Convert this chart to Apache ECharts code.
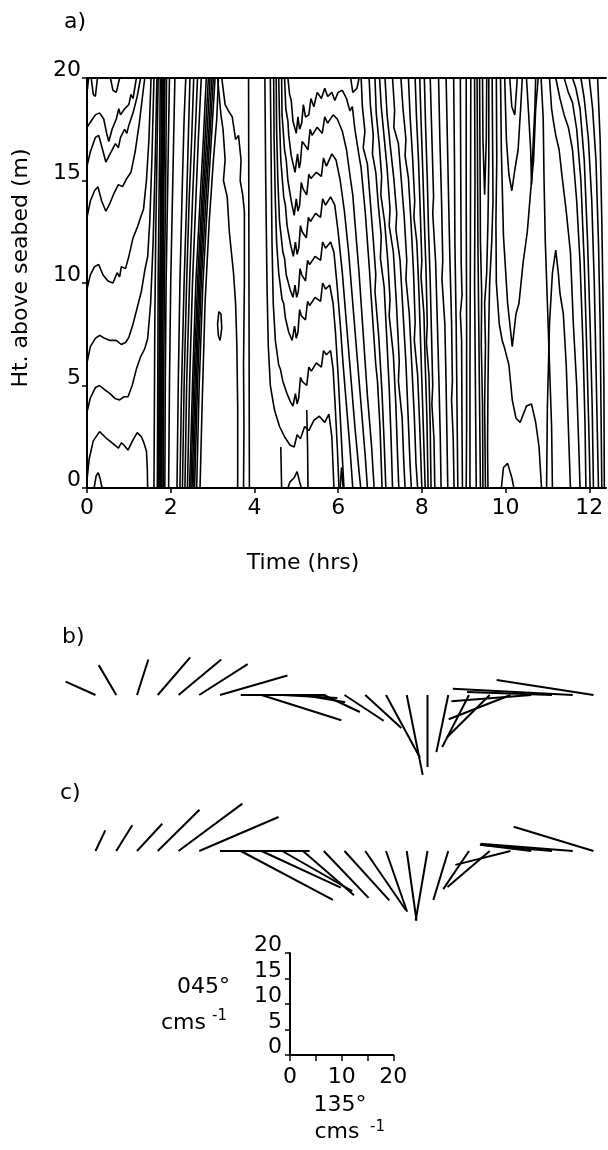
<!DOCTYPE html>
<html>
<head>
<meta charset="utf-8">
<script src="https://cdn.jsdelivr.net/npm/echarts@6/dist/echarts.min.js"></script>
<style>
html, body { margin: 0; padding: 0; background: #fff; }
#chart { width: 608px; height: 1150px; }
</style>
</head>
<body>
<div id="chart"></div>
<script>
// panel a: contour lines, each a list of [time (hrs), height (m)]
const leftFamily = [
  [[0,19.3],[0.04,20]],
  [[0.1,20],[0.15,19.2],[0.2,19.1],[0.25,20]],
  [[0.56,20],[0.62,19.4],[0.7,19.3],[0.78,20]],
  [[0,17.6],[0.1,17.9],[0.2,18.2],[0.3,18.3],[0.4,18.0],[0.47,17.3],[0.52,16.9],[0.6,17.5],[0.7,18.0],[0.76,18.5],[0.8,18.2],[0.9,18.5],[1.0,18.7],[1.05,19.2],[1.1,19.0],[1.18,20]],
  [[0,15.7],[0.08,16.4],[0.2,17.1],[0.28,17.2],[0.36,16.6],[0.45,15.9],[0.55,16.3],[0.68,16.8],[0.75,16.6],[0.8,17.1],[0.9,17.5],[0.95,17.3],[1.0,17.7],[1.1,18.3],[1.2,19.1],[1.28,20]],
  [[0,13.2],[0.08,14.0],[0.18,14.5],[0.26,14.7],[0.35,14.0],[0.45,13.5],[0.55,13.9],[0.65,14.4],[0.75,14.8],[0.85,14.7],[0.95,15.1],[1.05,15.4],[1.15,16.4],[1.25,17.8],[1.32,19],[1.38,20]],
  [[0,9.7],[0.08,10.4],[0.18,10.8],[0.28,10.9],[0.38,10.4],[0.5,10.1],[0.62,10.0],[0.72,10.5],[0.78,10.3],[0.82,10.8],[0.92,10.7],[1.0,11.3],[1.1,12.2],[1.2,12.7],[1.28,13.2],[1.35,13.6],[1.42,15],[1.48,17],[1.53,20]],
  [[0,6.1],[0.08,6.9],[0.2,7.3],[0.3,7.45],[0.42,7.3],[0.55,7.2],[0.7,7.2],[0.82,7.0],[0.92,7.1],[1.0,7.35],[1.1,8.0],[1.2,8.8],[1.3,9.6],[1.38,10.6],[1.45,11.3],[1.5,13],[1.55,16],[1.6,20]],
  [[0,3.7],[0.08,4.4],[0.2,4.9],[0.3,5.0],[0.42,4.8],[0.55,4.6],[0.68,4.35],[0.78,4.3],[0.88,4.45],[0.98,4.45],[1.08,5.0],[1.18,5.8],[1.28,6.4],[1.38,6.8],[1.45,7.3],[1.52,9],[1.58,12],[1.63,16],[1.67,20]],
  [[0,0.4],[0.05,1.4],[0.15,2.3],[0.3,2.75],[0.45,2.45],[0.6,2.2],[0.75,1.95],[0.82,2.2],[0.88,2.1],[0.98,1.85],[1.1,2.35],[1.2,2.7],[1.3,2.5],[1.36,2.2],[1.42,1.8],[1.44,1.0],[1.45,0]],
  [[0.17,0],[0.22,0.6],[0.27,0.75],[0.32,0.4],[0.36,0]]
];

const bandLines = [
  [[1.6,0],[1.61,4],[1.62,8],[1.64,12],[1.67,16],[1.7,20]],
  [[1.68,0],[1.69,5],[1.7,10],[1.72,14],[1.74,17],[1.75,20]],
  [[1.71,0],[1.72,5],[1.74,10],[1.76,14],[1.78,20]],
  [[1.73,0],[1.74,5],[1.76,10],[1.78,14],[1.8,20]],
  [[1.75,0],[1.76,5],[1.78,10],[1.8,15],[1.82,20]],
  [[1.77,0],[1.78,5],[1.8,10],[1.82,15],[1.84,20]],
  [[1.79,0],[1.8,5],[1.82,10],[1.84,15],[1.86,20]],
  [[1.82,0],[1.83,5],[1.85,10],[1.88,15],[1.9,20]],
  [[1.86,0],[1.87,5],[1.89,10],[1.93,15],[1.97,20]],
  [[1.95,0],[1.97,5],[2.0,10],[2.05,15],[2.1,20]],
  [[2.15,0],[2.18,5],[2.22,10],[2.28,15],[2.32,18],[2.36,20]],
  [[2.22,0],[2.26,5],[2.32,10],[2.38,14],[2.42,17],[2.46,20]],
  [[2.28,0],[2.32,5],[2.38,10],[2.44,14],[2.5,17],[2.55,20]],
  [[2.34,0],[2.38,5],[2.45,10],[2.52,14],[2.58,17],[2.64,20]],
  [[2.4,0],[2.45,5],[2.52,10],[2.6,14],[2.66,17],[2.73,20]],
  [[2.45,0],[2.52,5],[2.6,10],[2.7,14],[2.78,17],[2.85,20]],
  [[2.48,0],[2.55,5],[2.64,10],[2.74,14],[2.82,17],[2.9,20]],
  [[2.51,0],[2.58,5],[2.67,10],[2.77,14],[2.86,17],[2.94,20]],
  [[2.54,0],[2.61,5],[2.7,10],[2.8,14],[2.9,17],[2.98,20]],
  [[2.57,0],[2.64,5],[2.73,10],[2.84,14],[2.93,17],[3.02,20]],
  [[2.62,0],[2.68,5],[2.77,10],[2.88,14],[2.97,17],[3.06,20]],
  [[2.7,0],[2.75,4],[2.82,9],[2.92,13],[3.02,16],[3.1,18],[3.14,20]]
];

const midLines = [
  [[3.22,20],[3.3,18.7],[3.38,18.4],[3.47,18.1],[3.55,17.0],[3.62,17.2],[3.68,16.0],[3.66,15.0],[3.72,14.3],[3.76,13.5],[3.76,10],[3.74,6],[3.75,3],[3.74,0]],
  [[3.86,20],[3.87,10],[3.88,0]],
  [[3.12,20],[3.2,18.2],[3.25,17.5],[3.3,16.0],[3.26,15],[3.35,14.2],[3.4,12.5],[3.45,11.5],[3.5,10.5],[3.55,9],[3.58,7],[3.6,4],[3.6,0]],
  [[3.14,7.4],[3.12,8.0],[3.15,8.6],[3.2,8.5],[3.22,7.8],[3.18,7.2],[3.14,7.4]],
  [[4.63,2.0],[4.64,1.0],[4.65,0]],
  [[4.8,0],[4.85,0.3],[4.95,0.5],[5.02,0.8],[5.08,0.3],[5.12,0]],
  [[5.25,3.8],[5.27,2],[5.28,0]],
  [[6.05,0],[6.08,1.0],[6.1,0.6],[6.12,0]],
  [[6.3,20],[6.35,19.3],[6.45,19.5],[6.5,20]]
];

const vFamily = [
  [[4.8,20],[4.84,19.2],[4.88,18.9],[4.92,17.9],[4.96,17.6],[5.0,17.3],[5.04,18.1],[5.08,17.5],[5.13,17.8],[5.17,18.7],[5.22,18.1],[5.3,18.2],[5.35,19.0],[5.42,18.6],[5.5,19.3],[5.6,19.0],[5.68,19.5],[5.75,19.1],[5.85,19.3],[5.92,18.9],[6.0,19.3],[6.1,19.4],[6.2,19.0],[6.28,18.4],[6.34,18.6],[6.4,17.5],[6.5,16.2],[6.55,15.6],[6.6,14.5],[6.65,13.4],[6.7,12],[6.75,10.6],[6.8,9],[6.9,6],[6.94,5.2],[7.0,3],[7.05,0]],
  [[4.72,20],[4.75,18.5],[4.8,17.9],[4.82,17.2],[4.88,16.2],[4.97,15.4],[5.03,16.3],[5.07,15.6],[5.1,15.9],[5.14,16.9],[5.18,16.8],[5.28,16.5],[5.33,17.5],[5.38,17.2],[5.5,17.6],[5.62,17.3],[5.68,18.1],[5.75,17.8],[5.88,18.2],[5.98,18.0],[6.1,17.4],[6.2,16.5],[6.3,15],[6.35,14.3],[6.4,13],[6.5,10.5],[6.6,7.5],[6.7,4.5],[6.8,2],[6.86,0]],
  [[4.65,20],[4.66,18.2],[4.72,16.5],[4.76,16.0],[4.8,15.0],[4.88,14.0],[4.95,13.3],[5.0,14.1],[5.04,13.5],[5.08,13.8],[5.12,14.9],[5.16,14.6],[5.25,14.3],[5.3,15.3],[5.35,15.1],[5.48,15.4],[5.6,15.2],[5.65,16.1],[5.72,15.7],[5.85,16.3],[5.95,16.0],[6.05,15.0],[6.15,13.5],[6.25,11.5],[6.35,9],[6.45,6.5],[6.55,4],[6.65,1.5],[6.7,0]],
  [[4.58,20],[4.6,18],[4.63,16],[4.7,14.2],[4.74,13.8],[4.78,12.8],[4.86,11.9],[4.93,11.3],[4.98,12.0],[5.02,11.4],[5.06,11.7],[5.1,12.8],[5.14,12.5],[5.24,12.2],[5.29,13.2],[5.34,13.0],[5.46,13.4],[5.58,13.2],[5.63,14.1],[5.7,13.8],[5.82,14.2],[5.92,13.8],[6.0,12.5],[6.1,10.5],[6.2,8],[6.3,5.5],[6.4,3],[6.5,0.8],[6.54,0]],
  [[4.52,20],[4.53,17.5],[4.56,15],[4.6,13],[4.68,11.5],[4.72,11.2],[4.76,10.4],[4.85,9.7],[4.92,9.3],[4.97,9.9],[5.01,9.3],[5.05,9.6],[5.09,10.7],[5.13,10.4],[5.22,10.1],[5.27,11.1],[5.32,10.9],[5.45,11.3],[5.58,11.1],[5.63,12.0],[5.7,11.7],[5.82,12.0],[5.9,11.5],[5.97,10],[6.05,8],[6.12,6],[6.2,4],[6.28,2],[6.35,0]],
  [[4.46,20],[4.47,17],[4.5,14],[4.53,12],[4.58,10.5],[4.66,9.2],[4.7,9.0],[4.74,8.3],[4.82,7.6],[4.9,7.2],[4.96,7.9],[5.0,7.3],[5.04,7.6],[5.08,8.7],[5.12,8.4],[5.22,8.2],[5.27,9.1],[5.32,8.9],[5.45,9.3],[5.58,9.1],[5.63,10.0],[5.7,9.7],[5.8,9.9],[5.88,9.0],[5.94,7.5],[6.0,5.5],[6.05,3.5],[6.1,1.5],[6.14,0]],
  [[4.38,20],[4.4,16],[4.42,12],[4.45,9],[4.5,7.2],[4.58,6.0],[4.62,5.8],[4.68,5.2],[4.78,4.6],[4.86,4.2],[4.92,4.0],[4.98,4.6],[5.02,4.1],[5.06,4.4],[5.1,5.4],[5.14,5.2],[5.25,5.0],[5.3,5.9],[5.36,5.7],[5.48,6.1],[5.6,5.9],[5.65,6.7],[5.72,6.5],[5.82,6.7],[5.88,5.8],[5.93,4],[5.98,2],[6.02,0]],
  [[4.25,20],[4.27,15],[4.3,10],[4.33,7],[4.38,5],[4.48,3.8],[4.6,3.0],[4.72,2.5],[4.85,2.1],[4.95,2.0],[5.02,2.6],[5.1,2.4],[5.2,3.0],[5.3,2.8],[5.42,3.3],[5.55,3.5],[5.68,3.2],[5.78,3.6],[5.85,2.5],[5.88,1],[5.9,0]]
];

const slantLines = [
  [[6.55,20],[6.58,18.6],[6.64,17.4],[6.6,16.6],[6.7,15.8],[6.76,14.2],[6.84,12.1],[6.9,10.4],[6.88,9.6],[6.97,7.4],[7.05,4.6],[7.1,2.2],[7.14,0]],
  [[6.74,20],[6.77,18.7],[6.84,17.2],[6.82,16.3],[6.9,15.4],[6.96,13.8],[7.03,12.3],[7.01,11.2],[7.1,9.8],[7.16,7.4],[7.22,4.9],[7.27,2.1],[7.3,0]],
  [[6.88,20],[6.91,18.3],[6.98,16.8],[7.04,15.2],[7.02,14.3],[7.11,13.0],[7.19,11.0],[7.24,9.2],[7.22,8.4],[7.32,6.5],[7.38,4.0],[7.42,1.6],[7.45,0]],
  [[6.99,20],[7.03,18.6],[7.1,17.1],[7.17,15.6],[7.24,13.6],[7.22,12.8],[7.32,11.5],[7.39,9.1],[7.46,6.2],[7.44,5.2],[7.53,3.4],[7.57,1.2],[7.6,0]],
  [[7.12,20],[7.17,18.2],[7.25,16.6],[7.33,15.1],[7.4,13.4],[7.38,12.6],[7.48,11.1],[7.55,8.6],[7.62,6.1],[7.67,3.6],[7.72,1.1],[7.75,0]],
  [[7.3,20],[7.35,18.4],[7.33,17.6],[7.44,16.8],[7.51,15.0],[7.58,13.2],[7.64,11.1],[7.62,10.2],[7.7,8.5],[7.76,6.0],[7.82,3.5],[7.86,1.2],[7.9,0]],
  [[7.5,20],[7.55,18.5],[7.62,17.0],[7.6,16.2],[7.68,15.1],[7.74,13.0],[7.8,10.6],[7.84,8.1],[7.82,7.2],[7.9,5.5],[7.95,3.0],[8.0,0]],
  [[7.68,20],[7.72,18.1],[7.78,16.1],[7.83,14.0],[7.81,13.2],[7.88,12.0],[7.93,9.6],[7.97,7.1],[8.01,4.6],[8.05,2.0],[8.08,0]],
  [[7.84,20],[7.87,18.2],[7.92,16.0],[7.96,13.6],[8.0,11.1],[7.98,10.3],[8.05,8.5],[8.08,6.1],[8.12,3.5],[8.15,0]],
  [[7.95,20],[7.98,18.0],[8.02,15.6],[8.06,13.0],[8.1,10.6],[8.13,8.0],[8.11,7.1],[8.17,5.5],[8.2,3.0],[8.22,0]],
  [[8.06,20],[8.09,17.6],[8.13,15.1],[8.16,12.6],[8.2,10.1],[8.23,7.6],[8.26,5.0],[8.24,4.1],[8.29,2.4],[8.31,0]],
  [[8.2,20],[8.24,17.1],[8.28,14.2],[8.26,13.4],[8.33,11.0],[8.37,8.1],[8.41,5.1],[8.44,2.5],[8.46,0]],
  [[8.4,20],[8.43,17.1],[8.47,14.1],[8.5,11.1],[8.48,10.2],[8.55,8.0],[8.58,5.0],[8.6,2.5],[8.62,0]],
  [[8.58,20],[8.61,17.0],[8.64,14.0],[8.67,11.2],[8.71,8.1],[8.73,5.2],[8.71,4.3],[8.75,2.4],[8.77,0]],
  [[8.76,20],[8.78,16.0],[8.79,12.0],[8.82,8.0],[8.84,4.0],[8.86,0]],
  [[8.92,20],[8.93,15.0],[8.94,11.0],[8.96,9.4],[8.92,8.5],[8.95,7.2],[8.96,3.0],[8.97,0]],
  [[9.06,20],[9.06,14.0],[9.07,8.0],[9.07,3.0],[9.06,0]],
  [[9.17,20],[9.16,12.0],[9.15,6.0],[9.15,0]]
];

const rightLines = [
  [[9.26,20],[9.27,15],[9.26,10],[9.28,5],[9.3,0]],
  [[9.32,20],[9.33,16],[9.34,12],[9.36,8],[9.38,4],[9.4,0]],
  [[9.38,20],[9.39,16],[9.4,12],[9.43,9.5],[9.42,7],[9.45,4],[9.46,0]],
  [[9.45,20],[9.46,17],[9.5,14.3],[9.54,17],[9.55,20]],
  [[9.6,20],[9.6,16],[9.58,13],[9.55,10.5],[9.5,9],[9.52,7],[9.5,4],[9.52,0]],
  [[9.68,20],[9.69,17],[9.7,14],[9.67,12],[9.62,10],[9.6,8],[9.58,5],[9.57,2],[9.58,0]],
  [[9.78,20],[9.79,16],[9.77,13],[9.78,10],[9.85,8],[9.92,7.2],[9.98,6.8],[10.08,6.0],[10.16,4.3],[10.25,3.4],[10.35,3.2],[10.5,4.0],[10.62,4.1],[10.72,3.2],[10.8,2.0],[10.86,0]],
  [[9.88,20],[9.9,16.5],[9.95,12.3],[10.05,9.0],[10.16,6.9],[10.25,8.5],[10.32,9.0],[10.42,11],[10.52,12.5],[10.6,14.5],[10.67,16],[10.72,18.5],[10.78,20]],
  [[9.98,20],[10.02,17],[10.08,15.3],[10.15,14.5],[10.22,15.5],[10.3,16.5],[10.36,18.5],[10.4,20]],
  [[10.1,20],[10.15,18.6],[10.22,18.2],[10.28,20]],
  [[9.9,0],[9.95,1.0],[10.05,1.2],[10.15,0.5],[10.2,0]],
  [[10.85,20],[10.9,18],[10.92,15],[10.95,12],[11.0,9],[11.05,6],[11.1,3],[11.12,0]],
  [[10.98,0],[11.0,4],[11.05,8],[11.12,10.5],[11.2,11.6],[11.26,10.5],[11.3,9.5],[11.38,8.5],[11.45,6],[11.5,3],[11.55,0]],
  [[11.05,20],[11.1,18.5],[11.15,17.8],[11.2,17.2],[11.28,16.5],[11.35,15.2],[11.45,13.5],[11.55,11.5],[11.62,8],[11.7,5],[11.75,2],[11.78,0]],
  [[11.2,20],[11.3,19],[11.4,18.2],[11.5,17.6],[11.6,16.5],[11.7,14],[11.78,11],[11.85,7],[11.9,3],[11.92,0]],
  [[11.4,20],[11.5,19.3],[11.6,18.8],[11.7,17.5],[11.8,15],[11.88,11],[11.95,6],[12.0,2],[12.02,0]],
  [[11.6,20],[11.68,19.5],[11.78,18.5],[11.88,16],[11.96,12],[12.02,8],[12.07,4],[12.1,0]],
  [[11.8,20],[11.88,19],[11.98,17],[12.06,14],[12.12,10],[12.16,6],[12.2,2],[12.22,0]],
  [[12.0,20],[12.08,18.5],[12.16,16],[12.22,12],[12.26,8],[12.28,4],[12.3,0]],
  [[12.2,20],[12.26,17],[12.3,13],[12.33,9],[12.35,5],[12.36,0]],
  [[10.5,20],[10.55,18.3],[10.6,16.5],[10.62,14.8],[10.66,16.8],[10.7,18.5],[10.72,20]]
];

// panels b and c: current vectors every half hour, components in cm/s
const stickTimes = [0,0.5,1,1.5,2,2.5,3,3.5,4,4.5,5,5.5,6,6.5,7,7.5,8,8.5,9,9.5,10,10.5,11,11.5,12];
const bU = [-5.8,-3.4,2.2,6.3,8.3,9.4,13.1,16.5,15.5,10.7,8.2,7.0,7.6,7.0,6.6,3.1,0,-2.3,-5.2,-8.3,-12.0,-15.5,-16.5,-23.3,-18.8];
const bV = [2.6,5.8,6.9,7.3,6.9,6.0,3.8,0,-4.9,-0.6,-1.4,-3.3,-5.0,-6.4,-12.2,-15.5,-14.0,-11.1,-10.1,-8.2,-4.7,-1.2,0.6,1.2,2.9];
const cU = [1.9,3.1,4.9,8.1,12.4,15.4,17.4,17.9,15.4,13.6,9.9,8.7,8.7,7.9,4.1,1.9,-2.3,-2.9,-5.0,-8.2,-10.7,-9.9,-14.0,-17.9,-15.5];
const cV = [4.0,5.0,5.3,8.0,9.2,6.6,0,-9.5,-7.1,-7.8,-8.6,-9.1,-9.6,-11.5,-11.8,-13.5,-13.5,-9.5,-7.4,-7.0,-2.7,1.2,1.2,1.4,4.7];

const timeTicks = [0, 2, 4, 6, 8, 10, 12];
const scaleXLabels = [0, 10, 20];

const FONT = 'DejaVu Sans';
const myChart = echarts.init(document.getElementById('chart'));

const allContours = [].concat(leftFamily, bandLines, midLines, vFamily, slantLines, rightLines);
const contourSeries = allContours.map(function (pts) {
  return {
    type: 'line', xAxisIndex: 0, yAxisIndex: 0, data: pts,
    symbol: 'none', showSymbol: false, silent: true, animation: false,
    lineStyle: { color: '#000', width: 1.6 }
  };
});

function stickItem(params, api) {
  const p = api.coord([api.value(0), 0]);
  const k = api.size([0, 1])[1];
  return {
    type: 'line',
    shape: { x1: p[0], y1: p[1], x2: p[0] + api.value(1) * k, y2: p[1] - api.value(2) * k },
    style: { stroke: '#000', lineWidth: 2 }
  };
}
function stickData(u, v) {
  return stickTimes.map(function (t, i) { return [t, u[i], v[i]]; });
}

const lineBlack = { show: true, lineStyle: { color: '#000', width: 2 } };
const labelStyle = { color: '#000', fontFamily: FONT, fontSize: 22 };

myChart.setOption({
  animation: false,
  grid: [
    { left: 87, top: 78, width: 519, height: 410, outerBoundsMode: 'none' },
    { left: 95.5, top: 643.5, width: 498, height: 154.5, outerBoundsMode: 'none' },
    { left: 95.5, top: 799.5, width: 498, height: 128.75, outerBoundsMode: 'none' },
    { left: 290, top: 953, width: 103.3, height: 102, outerBoundsMode: 'none' }
  ],
  xAxis: [
    { gridIndex: 0, type: 'value', min: 0, max: 12.4, interval: 2,
      axisLine: lineBlack, splitLine: { show: false },
      axisTick: { show: true, length: 5, lineStyle: { color: '#000', width: 1.5 },
        customValues: timeTicks },
      axisLabel: Object.assign({ margin: 9, customValues: timeTicks }, labelStyle) },
    { gridIndex: 0, type: 'value', min: 0, max: 12.4, position: 'top',
      axisLine: lineBlack, axisTick: { show: false }, axisLabel: { show: false }, splitLine: { show: false } },
    { gridIndex: 1, type: 'value', min: 0, max: 12, show: false },
    { gridIndex: 2, type: 'value', min: 0, max: 12, show: false },
    { gridIndex: 3, type: 'value', min: 0, max: 20, interval: 5,
      axisLine: lineBlack, splitLine: { show: false },
      axisTick: { show: true, length: 6, lineStyle: { color: '#000', width: 1.5 } },
      axisLabel: Object.assign({ margin: 11, formatter: function (v) { return scaleXLabels.indexOf(v) >= 0 ? String(v) : ''; } }, labelStyle) }
  ],
  yAxis: [
    { gridIndex: 0, type: 'value', min: 0, max: 20, interval: 5,
      axisLine: lineBlack, splitLine: { show: false },
      axisTick: { show: true, length: 5, lineStyle: { color: '#000', width: 1.5 } },
      axisLabel: Object.assign({ margin: 6, verticalAlign: 'bottom', lineHeight: 15 }, labelStyle) },
    { gridIndex: 1, type: 'value', min: -20, max: 10, show: false },
    { gridIndex: 2, type: 'value', min: -15, max: 10, show: false },
    { gridIndex: 3, type: 'value', min: 0, max: 20, interval: 5,
      axisLine: lineBlack, splitLine: { show: false },
      axisTick: { show: true, length: 5, lineStyle: { color: '#000', width: 1.5 } },
      axisLabel: Object.assign({ margin: 8, verticalAlign: 'bottom', lineHeight: 15 }, labelStyle) }
  ],
  series: contourSeries.concat([
    { type: 'custom', xAxisIndex: 2, yAxisIndex: 1, renderItem: stickItem,
      data: stickData(bU, bV), encode: { x: 0, y: 2 }, silent: true, clip: false },
    { type: 'custom', xAxisIndex: 3, yAxisIndex: 2, renderItem: stickItem,
      data: stickData(cU, cV), encode: { x: 0, y: 2 }, silent: true, clip: false }
  ]),
  graphic: [
    { type: 'text', x: 64, y: 22, style: { text: 'a)', font: '22px ' + FONT, fill: '#000', verticalAlign: 'middle' } },
    { type: 'text', x: 62, y: 637, style: { text: 'b)', font: '22px ' + FONT, fill: '#000', verticalAlign: 'middle' } },
    { type: 'text', x: 60, y: 793, style: { text: 'c)', font: '22px ' + FONT, fill: '#000', verticalAlign: 'middle' } },
    { type: 'text', x: 303, y: 563, style: { text: 'Time (hrs)', font: '22px ' + FONT, fill: '#000', align: 'center', verticalAlign: 'middle' } },
    { type: 'text', x: 21, y: 268, rotation: Math.PI / 2,
      style: { text: 'Ht. above seabed (m)', font: '22px ' + FONT, fill: '#000', align: 'center', verticalAlign: 'middle' } },
    { type: 'text', x: 230, y: 998, style: { text: '045°', font: '22px ' + FONT, fill: '#000', align: 'right', verticalAlign: 'bottom' } },
    { type: 'text', x: 206, y: 1034, style: { text: 'cms', font: '22px ' + FONT, fill: '#000', align: 'right', verticalAlign: 'bottom' } },
    { type: 'text', x: 212, y: 1016, style: { text: '-1', font: '15px ' + FONT, fill: '#000', verticalAlign: 'middle' } },
    { type: 'text', x: 340, y: 1105, style: { text: '135°', font: '22px ' + FONT, fill: '#000', align: 'center', verticalAlign: 'middle' } },
    { type: 'text', x: 337, y: 1143, style: { text: 'cms', font: '22px ' + FONT, fill: '#000', align: 'center', verticalAlign: 'bottom' } },
    { type: 'text', x: 370, y: 1127, style: { text: '-1', font: '15px ' + FONT, fill: '#000', verticalAlign: 'middle' } }
  ]
});
</script>
</body>
</html>
